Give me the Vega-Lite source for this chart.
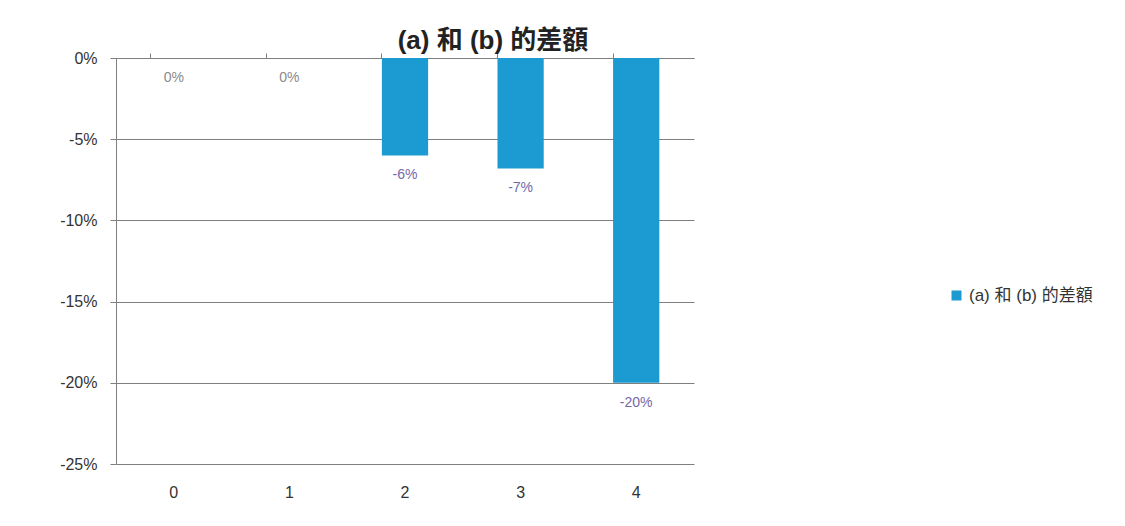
{
  "$schema": "https://vega.github.io/schema/vega-lite/v6.json",
  "width": 578,
  "height": 406,
  "autosize": {"type": "none"},
  "padding": {"left": 116, "top": 58, "right": 431, "bottom": 62},
  "background": "white",
  "config": {
    "font": "Liberation Sans, Noto Sans CJK TC",
    "view": {"stroke": null}
  },
  "title": {
    "text": "(a) 和 (b) 的差額",
    "font": "Liberation Sans, Noto Sans CJK TC",
    "fontSize": 26,
    "fontWeight": "bold",
    "color": "#222222",
    "anchor": "middle",
    "dx": 88,
    "offset": -4
  },
  "data": {
    "values": [
      {"category": "0", "value": 0, "label": "0%", "series": "(a) 和 (b) 的差額"},
      {"category": "1", "value": 0, "label": "0%", "series": "(a) 和 (b) 的差額"},
      {"category": "2", "value": -0.06, "label": "-6%", "series": "(a) 和 (b) 的差額"},
      {"category": "3", "value": -0.068, "label": "-7%", "series": "(a) 和 (b) 的差額"},
      {"category": "4", "value": -0.2, "label": "-20%", "series": "(a) 和 (b) 的差額"}
    ]
  },
  "encoding": {
    "x": {"field": "category", "type": "nominal", "sort": null, "scale": {"paddingInner": 0.6, "paddingOuter": 0.3}},
    "y": {"field": "value", "type": "quantitative", "scale": {"domain": [-0.25, 0], "nice": false}}
  },
  "layer": [
    {
      "mark": {"type": "bar"},
      "encoding": {
        "x": {
          "field": "category", "type": "nominal", "sort": null,
          "axis": {"orient": "bottom", "title": null, "labelAngle": 0, "domain": false, "ticks": false, "labelPadding": 20, "labelFontSize": 16, "labelColor": "#333333"}
        },
        "y": {
          "field": "value", "type": "quantitative",
          "axis": {"title": null, "values": [0, -0.05, -0.1, -0.15, -0.2, -0.25], "format": ".0%", "labelExpr": "replace(datum.label, '−', '-')", "grid": true, "gridColor": "#7f7f7f", "gridOpacity": 1, "domain": true, "domainColor": "#7f7f7f", "tickColor": "#7f7f7f", "tickSize": 6, "labelPadding": 13, "labelFontSize": 16, "labelColor": "#333333"}
        },
        "color": {
          "field": "series", "type": "nominal",
          "scale": {"range": ["#1b9bd1"]},
          "legend": {"title": null, "orient": "none", "legendX": 832, "legendY": 229, "symbolType": "square", "symbolSize": 100, "labelFontSize": 17, "labelColor": "#333333", "symbolStrokeWidth": 0}
        }
      }
    },
    {
      "mark": {"type": "text", "dy": 20, "fontSize": 14, "baseline": "middle"},
      "encoding": {
        "x": {
          "field": "category", "type": "nominal", "sort": null,
          "axis": {"orient": "top", "title": null, "labels": false, "bandPosition": 0, "domain": true, "domainColor": "#7f7f7f", "ticks": true, "tickColor": "#7f7f7f", "tickSize": 5}
        },
        "text": {"field": "label", "type": "nominal"},
        "color": {"condition": {"test": "datum.value < 0", "value": "#7468a8"}, "value": "#8a8a8a"}
      }
    }
  ]
}
